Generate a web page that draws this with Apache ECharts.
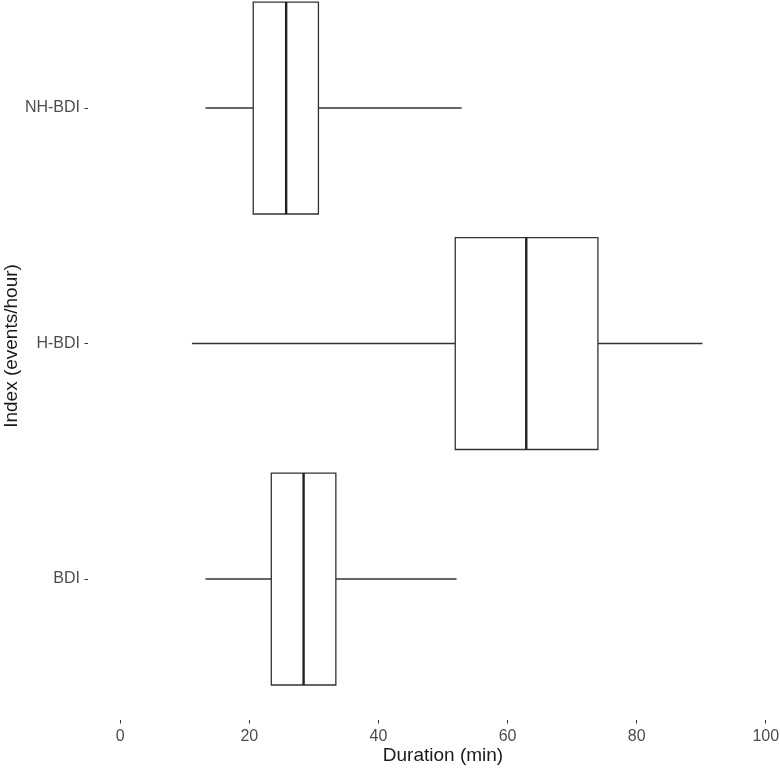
<!DOCTYPE html>
<html>
<head>
<meta charset="utf-8">
<script src="https://cdn.jsdelivr.net/npm/echarts@6/dist/echarts.min.js"></script>
<style>html,body{margin:0;padding:0;background:#fff}#c{width:780px;height:768px}</style>
</head>
<body>
<div id="c"></div>
<script>
var categories = ['BDI', 'H-BDI', 'NH-BDI'];
var whiskerLow = [13.2, 11.1, 13.2];
var q1 = [23.4, 51.9, 20.6];
var median = [28.4, 62.9, 25.7];
var q3 = [33.4, 74.0, 30.7];
var whiskerHigh = [52.1, 90.2, 52.9];
var xTicks = [0, 20, 40, 60, 80, 100];

var data = categories.map(function (c, i) {
  return [i, whiskerLow[i], q1[i], median[i], q3[i], whiskerHigh[i]];
});
var catIdx = categories.map(function (c, i) { return i; });

var chart = echarts.init(document.getElementById('c'));
var stroke = '#333333';
var font = 'Liberation Sans';
chart.setOption({
  animation: false,
  backgroundColor: '#ffffff',
  grid: { left: 88, width: 710, top: 0, height: 720, containLabel: false, outerBoundsMode: 'none' },
  xAxis: {
    type: 'value', min: -5, max: 105,
    axisLine: { show: false, onZero: false },
    axisTick: { show: true, length: 3.5, customValues: xTicks, lineStyle: { color: '#333333', width: 1 } },
    axisLabel: { color: '#4d4d4d', fontSize: 16, margin: 9, fontFamily: font, customValues: xTicks },
    splitLine: { show: false },
    name: 'Duration (min)', nameLocation: 'middle', nameGap: 26, nameMoveOverlap: false,
    nameTextStyle: { color: '#1a1a1a', fontSize: 19, fontFamily: font }
  },
  yAxis: {
    type: 'value', min: -0.5987, max: 2.4586,
    axisLine: { show: false, onZero: false },
    axisTick: { show: true, length: 3.5, customValues: catIdx, lineStyle: { color: '#333333', width: 1 } },
    axisLabel: {
      color: '#4d4d4d', fontSize: 16, margin: 8, fontFamily: font, customValues: catIdx,
      formatter: function (v) { return categories[Math.round(v)]; }
    },
    splitLine: { show: false },
    name: 'Index (events/hour)', nameLocation: 'middle', nameGap: 67, nameRotate: 90, nameMoveOverlap: false,
    nameTextStyle: { color: '#1a1a1a', fontSize: 19, fontFamily: font, padding: [0, 0, 0, 28] }
  },
  series: [{
    type: 'custom',
    data: data,
    encode: { y: 0, x: [1, 2, 3, 4, 5] },
    renderItem: function (params, api) {
      var cat = api.value(0);
      var pLow = api.coord([api.value(1), cat]);
      var pQ1 = api.coord([api.value(2), cat]);
      var pMed = api.coord([api.value(3), cat]);
      var pQ3 = api.coord([api.value(4), cat]);
      var pHigh = api.coord([api.value(5), cat]);
      var band = api.size([0, 1])[1];
      var h = band * 0.9;
      var y = pMed[1];
      var ls = { stroke: stroke, lineWidth: 1.3 };
      return {
        type: 'group',
        children: [
          { type: 'line', shape: { x1: pLow[0], y1: y, x2: pQ1[0], y2: y }, style: ls },
          { type: 'line', shape: { x1: pQ3[0], y1: y, x2: pHigh[0], y2: y }, style: ls },
          { type: 'rect', shape: { x: pQ1[0], y: y - h / 2, width: pQ3[0] - pQ1[0], height: h },
            style: { fill: '#ffffff', stroke: stroke, lineWidth: 1.3 } },
          { type: 'line', shape: { x1: pMed[0], y1: y - h / 2, x2: pMed[0], y2: y + h / 2 },
            style: { stroke: '#222222', lineWidth: 2.4 } }
        ]
      };
    }
  }]
});
</script>
</body>
</html>
